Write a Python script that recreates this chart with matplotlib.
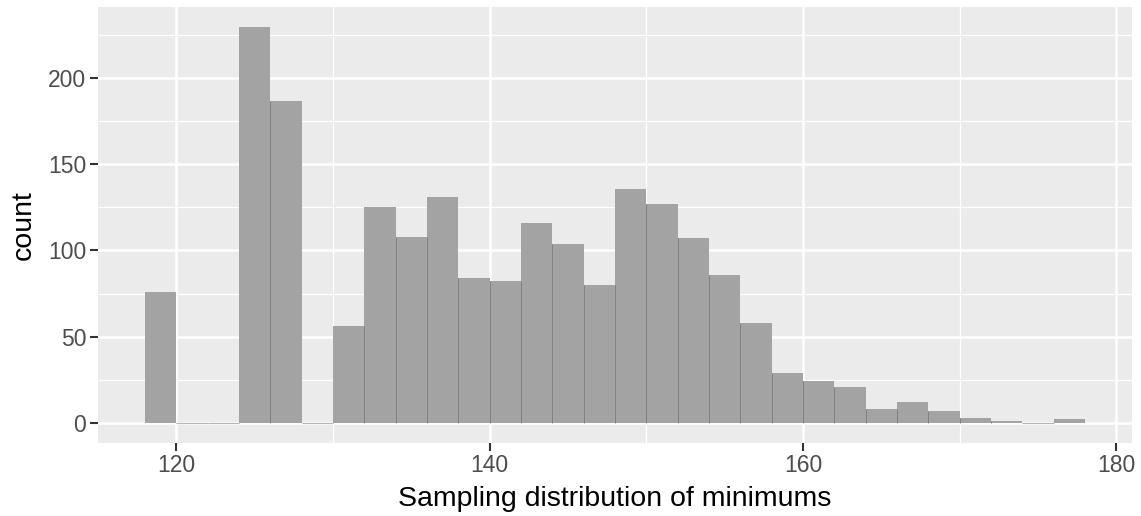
import numpy as np
import matplotlib
matplotlib.use("Agg")
import matplotlib.pyplot as plt

# histogram bins (left edges, width 2) and counts
bin_left = [118, 120, 122, 124, 126, 128, 130, 132, 134, 136,
            138, 140, 142, 144, 146, 148, 150, 152, 154, 156,
            158, 160, 162, 164, 166, 168, 170, 172, 174, 176]
counts = [76, 0, 0, 230, 187, 0, 56, 125, 108, 131,
          84, 82, 116, 104, 80, 136, 127, 107, 86, 58,
          29, 24, 21, 8, 12, 7, 3, 1, 0, 2]
bin_width = 2

x_ticks = [120, 140, 160, 180]
y_ticks = [0, 50, 100, 150, 200]

plt.rcParams['font.family'] = ['Liberation Sans', 'DejaVu Sans']

fig = plt.figure(figsize=(11.41, 5.16), dpi=100)
ax = fig.add_axes([0.0859, 0.1424, 0.9062, 0.8444])
ax.set_facecolor('#ebebeb')

# grid (ggplot style: major + minor)
for v in [130, 150, 170]:
    ax.axvline(v, color='white', lw=0.9, zorder=0)
for v in [25, 75, 125, 175, 225]:
    ax.axhline(v, color='white', lw=0.9, zorder=0)
for v in x_ticks:
    ax.axvline(v, color='white', lw=1.8, zorder=0)
for v in y_ticks:
    ax.axhline(v, color='white', lw=1.8, zorder=0)

ax.bar(bin_left, counts, width=bin_width, align='edge', color='#a3a3a3',
       edgecolor='none', zorder=2)
# zero-count bins show as a thin line on the baseline
zero_left = [b for b, c in zip(bin_left, counts) if c == 0]
ax.hlines([0] * len(zero_left), zero_left, [b + bin_width for b in zero_left],
          color='#b5b5b5', lw=0.8, zorder=2)
# darker seams where two filled bars touch
seam_x, seam_h = [], []
for i in range(1, len(counts)):
    if counts[i] > 0 and counts[i - 1] > 0:
        seam_x.append(bin_left[i])
        seam_h.append(min(counts[i], counts[i - 1]))
ax.vlines(seam_x, 0, seam_h, color='#808080', lw=0.7, zorder=3)

ax.set_xlim(115, 181)
ax.set_ylim(-11.5, 241.5)
ax.set_xticks(x_ticks)
ax.set_yticks(y_ticks)

for s in ax.spines.values():
    s.set_visible(False)
ax.tick_params(axis='both', colors='#333333', length=5.5, width=1.5,
               labelsize=16.5, labelcolor='#4d4d4d', pad=3)

ax.set_xlabel('Sampling distribution of minimums', fontsize=20.5, color='black', labelpad=6)
ax.set_ylabel('count', fontsize=20.5, color='black', labelpad=8)

fig.savefig('out.png', dpi=100)
